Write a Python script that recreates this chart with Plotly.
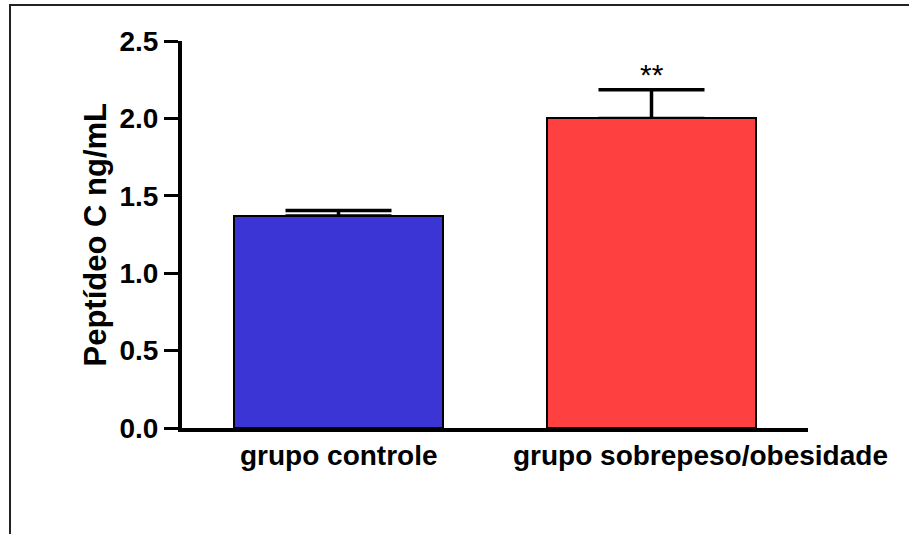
import plotly.graph_objects as go

# data
groups = ["grupo controle", "grupo sobrepeso/obesidade"]
means = [1.37, 2.0]
sem = [0.035, 0.185]
bar_colors = ["#3b35d5", "#ff4040"]
sig_labels = ["", "**"]
y_ticks = [0.0, 0.5, 1.0, 1.5, 2.0, 2.5]
y_title = "Peptídeo C ng/mL"

W, H = 909, 534
L, R, T, B = 182, 101, 41, 106
pw, ph = W - L - R, H - T - B
label_shift = [0, 49]  # the long label sits right of its bar in the original


def px_x(px):
    return (px - L) / pw


def px_y(py):
    return 1 - (py - T) / ph


FONT = "Arial, Liberation Sans, sans-serif"
xs = list(range(len(groups)))

fig = go.Figure()
# bars with SEM (upper half only)
fig.add_trace(go.Bar(
    x=xs, y=means, width=0.667,
    marker=dict(color=bar_colors, line=dict(color="black", width=2)),
    error_y=dict(type="data", symmetric=False, array=sem, arrayminus=[0] * len(sem),
                 color="black", thickness=3.5, width=53),
    showlegend=False, hoverinfo="skip",
))
# same bars redrawn on top so the lower error cap hides under the bar edge
fig.add_trace(go.Bar(
    x=xs, y=means, width=0.667,
    marker=dict(color=bar_colors, line=dict(color="black", width=2)),
    showlegend=False,
))

for i, lab in enumerate(sig_labels):
    if lab:
        fig.add_annotation(x=i, y=means[i] + sem[i] + 0.1, text=lab, showarrow=False,
                           font=dict(family=FONT, size=30, color="black"), yanchor="middle")

# category labels
for i, g in enumerate(groups):
    fig.add_annotation(x=i, xref="x", y=0, yref="paper", yanchor="top", yshift=-10,
                       xshift=label_shift[i], text="<b>" + g + "</b>", showarrow=False,
                       font=dict(family=FONT, size=28, color="black"))

# y-axis title
fig.add_annotation(xref="paper", yref="paper", x=px_x(95), y=0.5, text="<b>" + y_title + "</b>",
                   textangle=-90, showarrow=False, xanchor="center", yanchor="middle",
                   font=dict(family=FONT, size=31, color="black"))

# outer frame (left + top only visible)
fig.add_shape(type="path", xref="paper", yref="paper",
              path=f"M {px_x(10)},{px_y(H + 5)} L {px_x(10)},{px_y(5)} L {px_x(W + 5)},{px_y(5)}",
              line=dict(color="#222222", width=2))

fig.update_layout(
    width=W, height=H,
    margin=dict(l=L, r=R, t=T, b=B),
    plot_bgcolor="white", paper_bgcolor="white",
    barmode="overlay", bargap=0,
    xaxis=dict(
        range=[-0.5, 1.5],
        showticklabels=False, ticks="",
        showline=True, linecolor="black", linewidth=4,
        showgrid=False, zeroline=False,
    ),
    yaxis=dict(
        range=[0, 2.5],
        tickvals=y_ticks,
        ticktext=["<b>%.1f</b>" % v for v in y_ticks],
        tickfont=dict(family=FONT, size=28, color="black"),
        showline=True, linecolor="black", linewidth=4,
        ticks="outside", ticklen=14, tickwidth=3, tickcolor="black",
        showgrid=False, zeroline=False,
    ),
)

# drop the default 8px page margin so the figure sits at the window origin
fig.write_html("out.html", config={"displayModeBar": False},
               post_script="document.body.style.margin='0';")
